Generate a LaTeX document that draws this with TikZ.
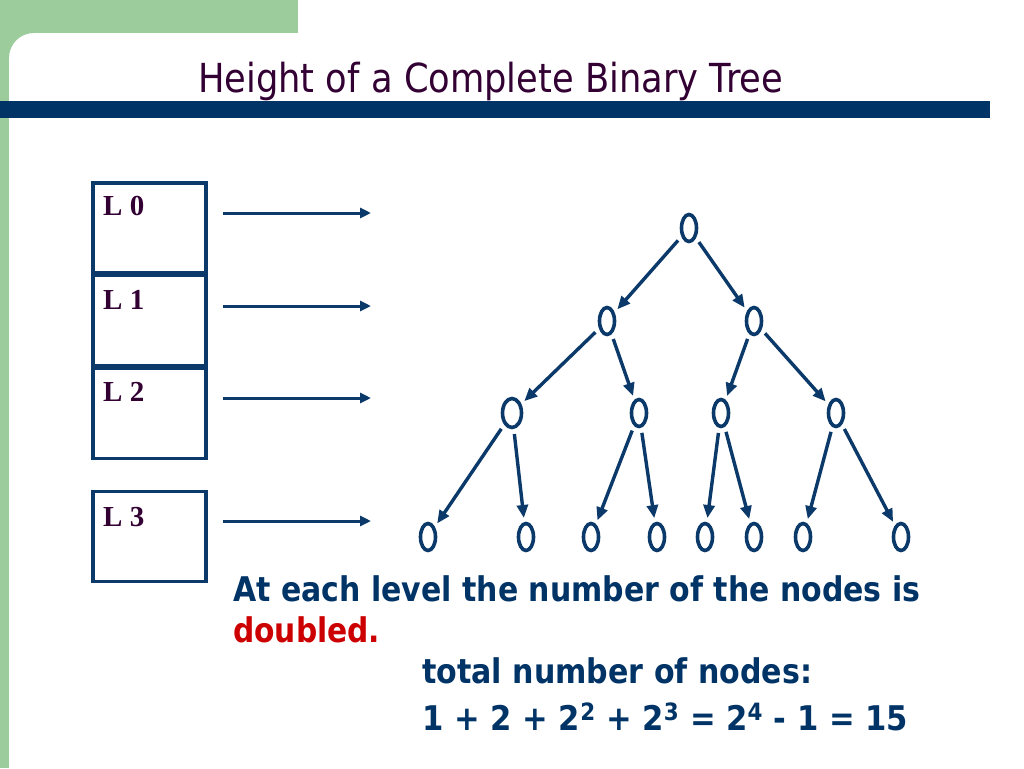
\documentclass[tikz,border=0pt]{standalone}
\usepackage{fontspec}
\setmainfont{DejaVu Sans}
\newfontfamily\serifb{Liberation Serif}
\usetikzlibrary{shapes.geometric,arrows.meta}
\definecolor{sgreen}{HTML}{9CCC9C}
\definecolor{barc}{HTML}{003366}
\definecolor{navy}{HTML}{0B3A6A}
\definecolor{titlec}{HTML}{330033}
\definecolor{redc}{HTML}{CC0000}
\tikzset{
  lvbox/.style={draw=navy, line width=3.4pt, minimum width=113pt, minimum height=90pt, inner sep=0pt},
  lvlabel/.style={anchor=base west, inner sep=0pt, text=titlec, font=\serifb\bfseries\fontsize{29}{32}\selectfont},
  levarrow/.style={draw=navy, line width=3pt, -{Triangle[length=11pt,width=10pt]}},
  tnode/.style={draw=navy, ellipse, line width=3.6pt, minimum width=15pt, minimum height=27pt, inner sep=0pt},
  edge/.style={draw=navy, line width=3.4pt, -{Triangle[length=13pt,width=11pt]}, shorten <=5pt, shorten >=4pt},
  body/.style={anchor=base west, inner sep=0pt, text=barc, font=\bfseries\fontsize{34}{40}\selectfont},
}
\begin{document}
\begin{tikzpicture}[x=1pt,y=-1pt]
\useasboundingbox (0,0) rectangle (1024,768);
\fill[white] (0,0) rectangle (1024,768);
% frame decoration
\fill[sgreen] (0,0) rectangle (298,33);
\fill[sgreen] (0,0) rectangle (9,768);
\fill[sgreen] (9,33) -- (34,33) .. controls (20,33) and (9,44) .. (9,58) -- cycle;
\fill[barc] (0,101) rectangle (990,118);
% title
\node[anchor=base west, inner sep=0pt, text=titlec, font=\fontsize{40}{48}\selectfont] (title) at (198,92) {\resizebox{585pt}{\height}{Height of a Complete Binary Tree}};
% level boxes
\node[lvbox] (b0) at (149.5,228) {};
\node[lvbox] (b1) at (149.5,320.5) {};
\node[lvbox] (b2) at (149.5,413.5) {};
\node[lvbox] (b3) at (149.5,536.5) {};
\node[lvlabel] (t0) at (103,215) {L 0};
\node[lvlabel] (t1) at (103,309) {L 1};
\node[lvlabel] (t2) at (103,401) {L 2};
\node[lvlabel] (t3) at (103,526) {L 3};
% level arrows
\coordinate (s0) at (223,213); \coordinate (e0) at (371,213);
\coordinate (s1) at (223,306); \coordinate (e1) at (371,306);
\coordinate (s2) at (223,398); \coordinate (e2) at (371,398);
\coordinate (s3) at (223,521); \coordinate (e3) at (371,521);
\draw[levarrow] (s0) -- (e0);
\draw[levarrow] (s1) -- (e1);
\draw[levarrow] (s2) -- (e2);
\draw[levarrow] (s3) -- (e3);
% tree
\node[tnode] (r) at (689,228) {};
\node[tnode] (a) at (607,321) {};
\node[tnode] (b) at (754,321) {};
\node[tnode, minimum width=19pt, minimum height=29pt] (c) at (512,413) {};
\node[tnode] (d) at (639,413) {};
\node[tnode] (e) at (721,413) {};
\node[tnode] (f) at (836,413) {};
\node[tnode] (g1) at (428,537) {};
\node[tnode] (g2) at (526,537) {};
\node[tnode] (g3) at (591,537) {};
\node[tnode] (g4) at (657,537) {};
\node[tnode] (g5) at (705,537) {};
\node[tnode] (g6) at (754,537) {};
\node[tnode] (g7) at (803,537) {};
\node[tnode] (g8) at (901,537) {};
\draw[edge] (r) -- (a);
\draw[edge] (r) -- (b);
\draw[edge] (a) -- (c);
\draw[edge] (a) -- (d);
\draw[edge] (b) -- (e);
\draw[edge] (b) -- (f);
\draw[edge] (c) -- (g1);
\draw[edge] (c) -- (g2);
\draw[edge] (d) -- (g3);
\draw[edge] (d) -- (g4);
\draw[edge] (e) -- (g5);
\draw[edge] (e) -- (g6);
\draw[edge] (f) -- (g7);
\draw[edge] (f) -- (g8);
% text
\node[body] (l1) at (233,601) {\resizebox{687pt}{\height}{At each level the number of the nodes is}};
\node[body, text=redc] (l2) at (233,642) {\resizebox{147pt}{\height}{doubled.}};
\node[body] (l3) at (422,683) {\resizebox{390pt}{\height}{total number of nodes:}};
\node[body] (l4) at (422,730) {\resizebox{486pt}{\height}{1 + 2 + 2\textsuperscript{2} + 2\textsuperscript{3} = 2\textsuperscript{4} - 1 = 15}};
\end{tikzpicture}
\end{document}
